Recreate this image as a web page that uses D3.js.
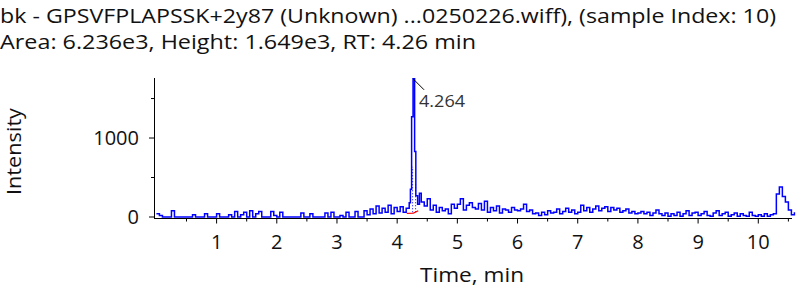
<!DOCTYPE html>
<html>
<head>
<meta charset="utf-8">
<script src="https://cdn.jsdelivr.net/npm/d3@7"></script>
<style>
  body { margin: 0; background: #fff; }
  text { font-family: "Open Sans", "Noto Sans", sans-serif; fill: #111; }
</style>
</head>
<body>
<svg id="chart"></svg>
<script>
var width = 799,
  height = 292;

var titleLines = [
  "bk - GPSVFPLAPSSK+2y87 (Unknown) ...0250226.wiff), (sample Index: 10)",
  "Area: 6.236e3, Height: 1.649e3, RT: 4.26 min"
];
var titleWidths = [776, 476];

// baseline noise, one value every 0.05 min starting at 0
var scanStart = 0, scanStep = 0.05;
var noise = [
  40,20,0,0,0,80,0,0,0,0,0,0,30,0,0,0,40,0,0,0,
  40,0,0,0,30,0,70,0,30,60,0,80,0,40,70,0,0,0,70,20,
  0,60,0,0,0,0,0,0,50,0,0,40,0,0,0,0,50,0,60,0,
  0,20,0,60,0,0,70,0,0,80,30,100,40,140,50,110,60,150,40,120,
  70,130,60,110,180,0,0,0,190,140,230,90,150,60,120,80,100,40,160,110,
  160,230,90,150,180,120,100,170,90,200,60,120,80,140,50,100,90,60,120,90,
  80,100,160,70,90,40,50,20,60,30,80,50,60,100,40,70,110,60,90,40,
  60,150,80,120,60,100,140,80,110,130,70,120,90,110,60,80,100,50,70,40,
  50,70,40,60,20,50,90,40,20,50,10,40,20,60,10,40,80,20,50,60,
  20,40,70,20,10,50,80,20,40,60,10,30,50,10,40,20,10,60,20,10,
  30,10,40,10,30,40,290,380,260,190,90,30,60
];

// the integrated peak itself, sampled more finely
var peakTimes = [4.20, 4.22, 4.24, 4.264, 4.29, 4.31, 4.34, 4.37];
var peakValues = [180, 350, 1270, 1750, 830, 270, 160, 300];

// integration baseline (red) and dotted drop lines
var baseTimes = [4.16, 4.27, 4.35];
var baseValues = [45, 50, 80];
var dropTimes = [4.24, 4.29];

var apexLabel = "4.264";
var xTicks = [1, 2, 3, 4, 5, 6, 7, 8, 9, 10];
var yTicks = [0, 1000];

var data = [];
noise.forEach((v, i) => {
  var t = scanStart + i * scanStep;
  if (t < peakTimes[0] - 0.001 || t > peakTimes[peakTimes.length - 1] + 0.001) {
    data.push({ t: t, v: v });
  }
});
peakTimes.forEach((t, i) => data.push({ t: t, v: peakValues[i] }));
data.sort((a, b) => a.t - b.t);

var svg = d3.select("#chart")
  .attr("width", width)
  .attr("height", height);

var x = d3.scaleLinear().domain([-0.04, 10.56]).range([154, 792]);
var y = d3.scaleLinear().domain([0, 1760]).range([217, 78]);

svg.selectAll(".title")
  .data(titleLines)
  .enter().append("text")
  .attr("class", "title")
  .attr("x", 0)
  .attr("y", (d, i) => 23 + i * 26)
  .attr("textLength", (d, i) => titleWidths[i])
  .attr("lengthAdjust", "spacingAndGlyphs")
  .style("font-size", "20px")
  .text(d => d);

// x axis
var xAxis = svg.append("g").attr("transform", "translate(0,218.5)");
xAxis.append("line")
  .attr("x1", 154).attr("x2", 792)
  .attr("stroke", "#000");
xAxis.selectAll(".minor")
  .data(d3.range(1, 22).map(d => d / 2))
  .enter().append("line")
  .attr("x1", d => x(d)).attr("x2", d => x(d))
  .attr("y1", 0).attr("y2", d => d % 1 == 0 ? 5 : 3)
  .attr("stroke", "#000");
xAxis.selectAll(".lbl")
  .data(xTicks)
  .enter().append("text")
  .attr("x", d => x(d))
  .attr("y", 30)
  .attr("text-anchor", "middle")
  .style("font-size", "20px")
  .text(d => d);

// y axis
var yAxis = svg.append("g");
yAxis.append("line")
  .attr("x1", 154.5).attr("x2", 154.5)
  .attr("y1", 78).attr("y2", 219)
  .attr("stroke", "#000");
yAxis.selectAll(".tick")
  .data([0, 500, 1000, 1500])
  .enter().append("line")
  .attr("x1", d => d % 1000 == 0 ? 149 : 151).attr("x2", 154.5)
  .attr("y1", d => y(d)).attr("y2", d => y(d))
  .attr("stroke", "#000");
yAxis.selectAll(".lbl")
  .data(yTicks)
  .enter().append("text")
  .attr("x", 139)
  .attr("y", d => y(d) + 7)
  .attr("text-anchor", "end")
  .style("font-size", "20px")
  .text(d => d);

svg.append("text")
  .attr("x", 420)
  .attr("y", 282)
  .attr("textLength", 104)
  .attr("lengthAdjust", "spacingAndGlyphs")
  .style("font-size", "20px")
  .text("Time, min");

svg.append("text")
  .attr("transform", "translate(21,195) rotate(-90)")
  .attr("textLength", 87)
  .attr("lengthAdjust", "spacingAndGlyphs")
  .style("font-size", "20px")
  .text("Intensity");

// dotted drop lines inside the peak
svg.selectAll(".drop")
  .data(dropTimes)
  .enter().append("line")
  .attr("x1", d => x(d) + 1).attr("x2", d => x(d) + 1)
  .attr("y1", y(60))
  .attr("y2", (d) => y(peakValues[peakTimes.indexOf(d)] * 0.5))
  .attr("stroke", "#0000ff")
  .attr("stroke-width", 1)
  .attr("stroke-dasharray", "1,2");

var line = d3.line()
  .x(d => x(d.t))
  .y(d => y(d.v))
  .curve(d3.curveStepAfter);

svg.append("path")
  .datum(data)
  .attr("d", line)
  .attr("fill", "none")
  .attr("stroke", "#0000ff")
  .attr("stroke-width", 1.5);

svg.append("path")
  .datum(baseTimes.map((t, i) => ({ t: t, v: baseValues[i] })))
  .attr("d", d3.line().x(d => x(d.t)).y(d => y(d.v)))
  .attr("fill", "none")
  .attr("stroke", "#ff0000")
  .attr("stroke-width", 1.2);

// apex label with leader line
var apexT = peakTimes[peakValues.indexOf(d3.max(peakValues))];
svg.append("line")
  .attr("x1", x(apexT)).attr("y1", y(d3.max(peakValues)))
  .attr("x2", x(apexT) + 11).attr("y2", y(d3.max(peakValues)) + 11)
  .attr("stroke", "#000");
svg.append("text")
  .attr("x", x(apexT) + 6)
  .attr("y", y(d3.max(peakValues)) + 28)
  .attr("textLength", 46)
  .attr("lengthAdjust", "spacingAndGlyphs")
  .style("font-size", "17px")
  .style("fill", "#333")
  .text(apexLabel);
</script>
</body>
</html>
